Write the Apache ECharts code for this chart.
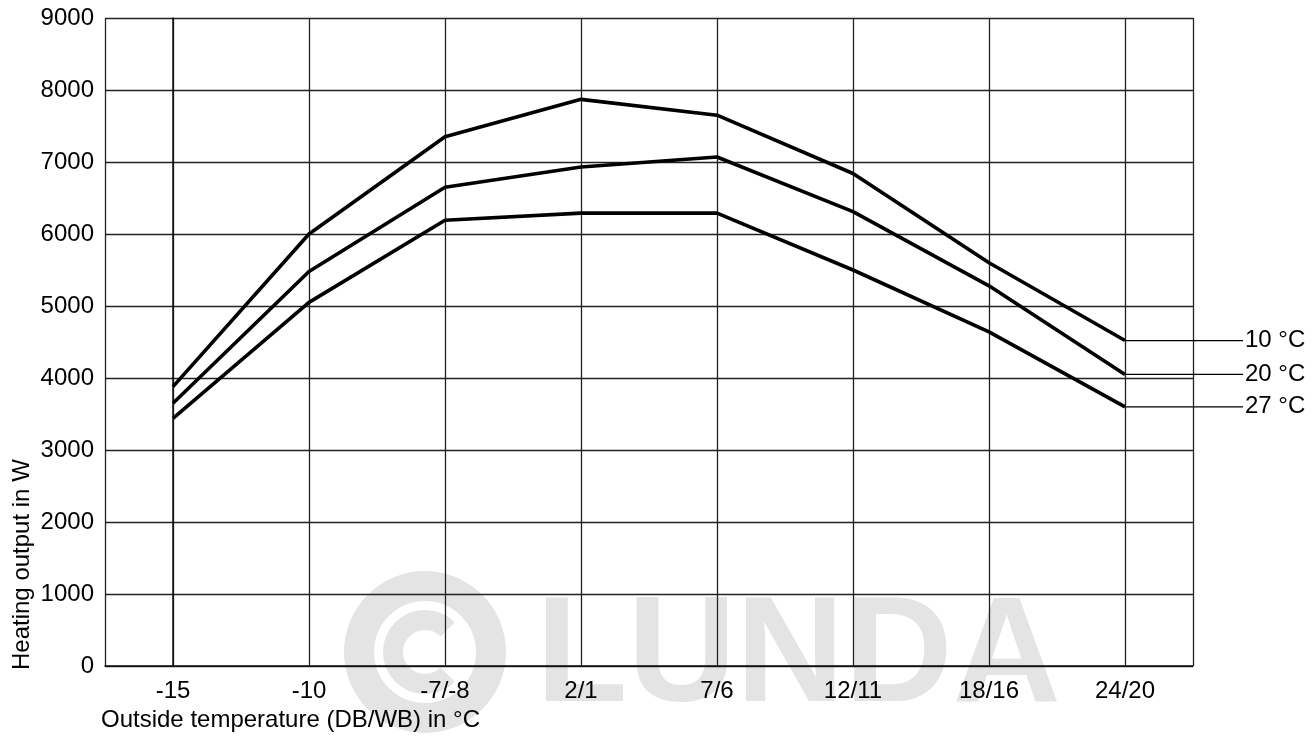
<!DOCTYPE html>
<html>
<head>
<meta charset="utf-8">
<script src="https://cdn.jsdelivr.net/npm/echarts@6/dist/echarts.min.js"></script>
<style>html,body{margin:0;padding:0;background:#fff}#c{width:1316px;height:738px}</style>
</head>
<body>
<div id="c"></div>
<script>
const categories = ['-15', '-10', '-7/-8', '2/1', '7/6', '12/11', '18/16', '24/20'];
const s10 = [3880, 6000, 7350, 7870, 7650, 6840, 5600, 4520];
const s20 = [3650, 5480, 6650, 6930, 7070, 6310, 5280, 4050];
const s27 = [3440, 5050, 6190, 6290, 6290, 5500, 4640, 3600];
const seriesNames = ['10 °C', '20 °C', '27 °C'];
const yTicks = { min: 0, max: 9000, interval: 1000 };
const xLabel = 'Outside temperature (DB/WB) in °C';
const yLabel = 'Heating output in W';

const FONT = 'Liberation Sans, Arial, sans-serif';
const FS = 24;
const chart = echarts.init(document.getElementById('c'), null, { renderer: 'canvas' });

function mkSeries(name, vals) {
  return {
    name: name,
    type: 'line',
    data: vals.map((v, i) => [i, v]),
    symbol: 'none',
    lineStyle: { color: '#000', width: 3.6 },
    clip: false,
    z: 5,
    endLabel: {
      show: true,
      distance: 0,
      formatter: '{l|}{t|' + name + '}',
      rich: {
        l: { width: 118, height: 1.3, backgroundColor: '#000' },
        t: { fontSize: FS, color: '#000', fontFamily: FONT, padding: [0, 0, 0, 2] }
      }
    }
  };
}

const option = {
  animation: false,
  backgroundColor: '#fff',
  grid: { left: 105, right: 123, top: 18, bottom: 72, containLabel: false },
  xAxis: {
    type: 'value',
    min: -0.5,
    max: 7.5,
    splitNumber: 8,
    axisLine: { show: true, lineStyle: { color: '#111', width: 1.5 } },
    axisTick: { show: false },
    axisLabel: {
      show: true,
      margin: 13,
      fontSize: FS,
      color: '#000',
      fontFamily: FONT,
      formatter: v => (Number.isInteger(v) && v >= 0 && v < categories.length) ? categories[v] : ''
    },
    splitLine: { show: true, lineStyle: { color: '#222', width: 1.3 } }
  },
  yAxis: {
    type: 'value',
    min: yTicks.min,
    max: yTicks.max,
    interval: yTicks.interval,
    axisLine: { show: true, lineStyle: { color: '#111', width: 1.5 } },
    axisTick: { show: false },
    axisLabel: { margin: 11, fontSize: FS, color: '#000', fontFamily: FONT, formatter: v => String(v) },
    splitLine: { show: true, lineStyle: { color: '#222', width: 1.3 } }
  },
  graphic: [
    {
      type: 'group', z: -10, silent: true,
      children: [
        { type: 'circle', shape: { cx: 425, cy: 652, r: 66 }, style: { fill: 'none', stroke: '#e4e4e4', lineWidth: 30 } },
        { type: 'arc', shape: { cx: 425, cy: 652, r: 32, startAngle: Math.PI * 0.25, endAngle: Math.PI * 1.75, clockwise: true }, style: { fill: 'none', stroke: '#e4e4e4', lineWidth: 20 } },
        { type: 'text', x: 536, y: 660, style: { text: 'LUNDA', fill: '#e4e4e4', font: 'bold 150px Liberation Sans, Arial, sans-serif', align: 'left', verticalAlign: 'middle' } }
      ]
    },
    {
      type: 'text', x: 22, y: 670, rotation: Math.PI / 2, z: 10,
      style: { text: yLabel, fill: '#000', font: FS + 'px Liberation Sans, Arial, sans-serif', align: 'left', verticalAlign: 'middle' }
    },
    {
      type: 'text', x: 101, y: 720, z: 10,
      style: { text: xLabel, fill: '#000', font: FS + 'px Liberation Sans, Arial, sans-serif', align: 'left', verticalAlign: 'middle' }
    }
  ],
  series: [mkSeries(seriesNames[0], s10), mkSeries(seriesNames[1], s20), mkSeries(seriesNames[2], s27)]
};
chart.setOption(option);
</script>
</body>
</html>
